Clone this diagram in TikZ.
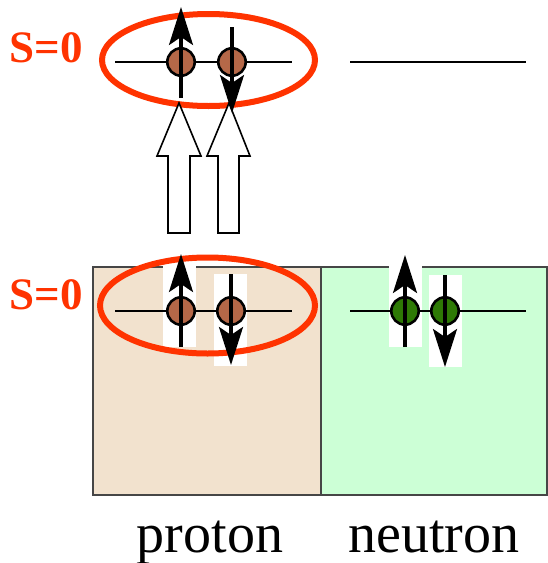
\documentclass[tikz,border=0pt]{standalone}
\usepackage{fontspec}
\setmainfont{Liberation Serif}
\usetikzlibrary{arrows.meta}
\definecolor{ringred}{RGB}{255,51,0}
\definecolor{protonbg}{RGB}{242,226,206}
\definecolor{neutronbg}{RGB}{204,255,214}
\definecolor{protonball}{RGB}{181,104,72}
\definecolor{neutronball}{RGB}{46,122,5}
\definecolor{boxline}{RGB}{70,70,70}

\begin{document}
\begin{tikzpicture}[x=0.5pt, y=-0.5pt,
    orbit/.style={line width=1pt},
    ring/.style={draw=ringred, line width=3pt},
    ball/.style={circle, draw, line width=1.3pt, minimum size=13.7pt, inner sep=0pt},
    spin/.style={line width=1.6pt, -{Stealth[length=19pt, width=12pt, inset=4pt]}},
    bigarrow/.style={draw, fill=white, line width=0.8pt},
    spinlabel/.style={text=ringred, font=\bfseries\fontsize{22.5}{27}\selectfont}]
    \useasboundingbox (0,0) rectangle (547,563);

    % Boxes
    \draw[boxline, fill=protonbg, line width=1pt] (93,267) rectangle (321,495);
    \draw[boxline, fill=neutronbg, line width=1pt] (321,267) rectangle (547,495);
    \fill[white] (163,255) rectangle (196,347);
    \fill[white] (214,274) rectangle (247,366);
    \fill[white] (389,255) rectangle (422,347);
    \fill[white] (429,275) rectangle (462,367);

    % Rings
    \draw[ring] (208.5,60) ellipse [x radius=106.5, y radius=46];
    \draw[ring] (207.5,305.5) ellipse [x radius=107.5, y radius=48];

    % Upper level
    \draw[orbit] (115,62) -- (292,62);
    \draw[orbit] (350,62) -- (526,62);
    \node[ball, fill=protonball] (P1) at (181,62) {};
    \node[ball, fill=protonball] (P2) at (232,62) {};
    \draw[spin] (181,98) -- (181,7);

    % Lower level
    \draw[orbit] (115,311) -- (292,311);
    \draw[orbit] (350,311) -- (526,311);
    \node[ball, fill=protonball] (P3) at (181,311) {};
    \node[ball, fill=protonball] (P4) at (231,311) {};
    \node[ball, fill=neutronball] (N1) at (405,311) {};
    \node[ball, fill=neutronball] (N2) at (445,311) {};
    \draw[spin] (181,347) -- (181,254);
    \draw[spin] (231,274) -- (231,365);
    \draw[spin] (405,347) -- (405,255);
    \draw[spin] (445,275) -- (445,367);

    % Pair transfer
    \draw[bigarrow] (168,233) -- (168,156) -- (157,156) -- (179,103)
        -- (201,156) -- (190,156) -- (190,233) -- cycle;
    \draw[bigarrow] (218,233) -- (218,156) -- (207,156) -- (229,103)
        -- (250,156) -- (239,156) -- (239,233) -- cycle;
    \draw[spin] (232,27) -- (232,113);

    % Labels
    \node[spinlabel] (S1) at (46,48) {S=0};
    \node[spinlabel] (S2) at (46,295) {S=0};
    \node[anchor=base, font=\fontsize{28}{34}\selectfont] (proton) at (210,552) {proton};
    \node[anchor=base, font=\fontsize{28}{34}\selectfont] (neutron) at (434,552) {neutron};
\end{tikzpicture}
\end{document}
